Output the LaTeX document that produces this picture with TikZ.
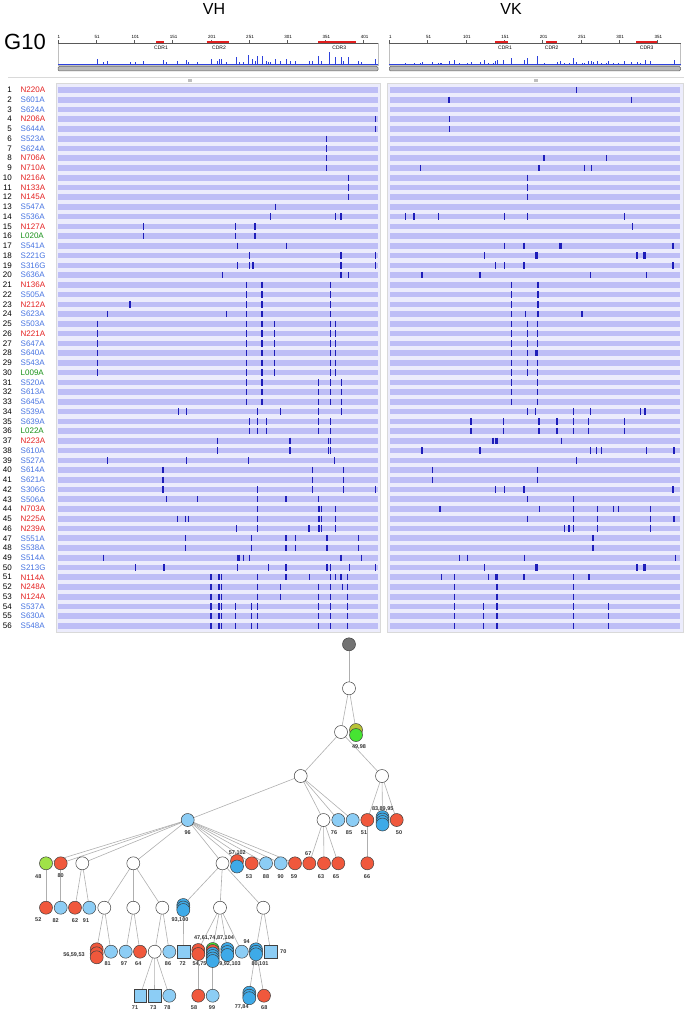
\documentclass[tikz,border=0pt]{standalone}
\usepackage{fontspec}
\setmainfont{Liberation Sans}
\usetikzlibrary{shapes, arrows, positioning}
\pgfdeclarelayer{background}
\pgfsetlayers{background,main}

\definecolor{mutred}{RGB}{228,32,32}
\definecolor{mutblue}{RGB}{70,115,225}
\definecolor{mutgreen}{RGB}{25,145,25}
\definecolor{barfill}{RGB}{190,190,246}
\definecolor{barbg}{RGB}{236,236,252}
\definecolor{tickblue}{RGB}{30,30,185}
\definecolor{histblue}{RGB}{45,65,220}
\definecolor{cdrred}{RGB}{225,30,30}
\definecolor{seqblue}{RGB}{140,205,245}
\definecolor{stackblue}{RGB}{62,170,232}
\definecolor{seqred}{RGB}{240,88,60}
\definecolor{seqgreen}{RGB}{70,228,50}
\definecolor{seqlime}{RGB}{160,226,72}
\definecolor{seqolive}{RGB}{185,195,55}
\definecolor{edgegray}{RGB}{175,175,175}

\tikzstyle{numlab} = [anchor=east, inner sep=0pt, font=\fontsize{8}{9}\selectfont]
\tikzstyle{mutlab} = [anchor=west, inner sep=0pt, font=\fontsize{8}{9}\selectfont]
\tikzstyle{ticklab} = [inner sep=0pt, font=\fontsize{4.5}{5}\selectfont]
\tikzstyle{cdrlab} = [inner sep=0pt, font=\fontsize{5}{5}\selectfont]
\tikzstyle{mut} = [line width=1.1pt, draw=tickblue]
\tikzstyle{hist} = [line width=0.9pt, draw=histblue]
\tikzstyle{seq} = [circle, minimum size=13pt, inner sep=0pt, draw=black!75, line width=0.5pt]
\tikzstyle{inferred} = [seq, fill=white]
\tikzstyle{seqB} = [seq, fill=seqblue]
\tikzstyle{seqR} = [seq, fill=seqred]
\tikzstyle{seqbox} = [rectangle, minimum size=12.5pt, inner sep=0pt, draw=black!75, line width=0.5pt, fill=seqblue]
\tikzstyle{lab} = [inner sep=0pt, font=\fontsize{5.5}{6}\selectfont\bfseries, text=black!80]
\tikzstyle{edge} = [draw=edgegray, line width=0.6pt]

\newcommand{\seqstack}[5]{%
  \node (#1) [seq, fill=#4] at (#2,#3) {};
  \foreach \dy/\sc [count=\kk] in {#5} {\node (#1-\kk) [seq, fill=\sc] at (#2,#3+\dy) {};}
}

\begin{document}
\begin{tikzpicture}[x=1pt, y=-1pt]
\useasboundingbox (0,0) rectangle (684,1011);

\node (vh) at (214,9) {\fontsize{16}{16}\selectfont VH};
\node (vk) at (511,9) {\fontsize{16}{16}\selectfont VK};
\node (gid) at (25,42) {\fontsize{22}{22}\selectfont G10};

% rulers
\draw[gray!50, line width=0.4pt] (58,43.5) rectangle (378,65);
\draw[gray!50, line width=0.4pt] (389.3,43.5) rectangle (680.5,65);
\draw[gray!70!black, line width=0.5pt] (58,43.5) -- (378,43.5);
\draw[gray!70!black, line width=0.5pt] (389.3,43.5) -- (680.5,43.5);
\foreach \k/\t in {0/1,1/51,2/101,3/151,4/201,5/251,6/301,7/351,8/401} {
  \draw[gray!70!black, line width=0.4pt] (58+38.2*\k,40.5) -- (58+38.2*\k,43.5);
  \node (tl\k) [ticklab] at (58+38.2*\k+1,36.5) {\t};
}
\foreach \k/\t in {0/1,1/51,2/101,3/151,4/201,5/251,6/301,7/351} {
  \draw[gray!70!black, line width=0.4pt] (389.3+38.3*\k,40.5) -- (389.3+38.3*\k,43.5);
  \node (tr\k) [ticklab] at (389.3+38.3*\k+1,36.5) {\t};
}
\draw[cdrred, line width=1.8pt] (156,42.3) -- (164.3,42.3);
\draw[cdrred, line width=1.8pt] (206.7,42.3) -- (229.3,42.3);
\draw[cdrred, line width=1.8pt] (318.3,42.3) -- (356,42.3);
\draw[cdrred, line width=1.8pt] (495,42.3) -- (507.7,42.3);
\draw[cdrred, line width=1.8pt] (545.7,42.3) -- (556.7,42.3);
\draw[cdrred, line width=1.8pt] (636,42.3) -- (656.7,42.3);
\node (cdr1h) [cdrlab] at (161,47.7) {CDR1};
\node (cdr2h) [cdrlab] at (219,47.7) {CDR2};
\node (cdr3h) [cdrlab] at (339.3,47.7) {CDR3};
\node (cdr1k) [cdrlab] at (505,47.7) {CDR1};
\node (cdr2k) [cdrlab] at (551.7,47.7) {CDR2};
\node (cdr3k) [cdrlab] at (646.7,47.7) {CDR3};

\draw[histblue, line width=0.4pt] (58,64.2) -- (378,64.2);
\draw[histblue, line width=0.4pt] (389.3,64.2) -- (680.5,64.2);
\foreach \x/\n in {97.7/6, 103.7/1, 107.3/2, 130/1, 135.7/1, 143.7/2, 163.5/4, 166.7/1, 177.8/2, 186.2/5, 188.3/1, 197.3/1, 211/6, 217.7/2, 219/6, 221.9/7, 226.3/1, 236.5/10, 239/1, 243.7/1, 248/19, 252/6, 255/2, 257.7/14, 262/13, 266.3/2, 268.3/1, 270.3/1, 275/7, 280.5/3, 286.3/6, 290/2, 295.7/2, 309.2/2, 312.3/3, 318.6/15, 321.7/3, 329.5/30, 335/11, 341.5/11, 343.3/3, 348/11, 358.3/2, 361.7/1, 375.7/6}
  \draw[hist] (\x,64.2) -- (\x,{64.7-2.3*sqrt(\n)});
\foreach \x/\n in {405.7/1, 414/1, 420.7/1, 422/2, 432.3/2, 438.3/1, 440/1, 441.7/1, 449.3/3, 454.3/6, 459.7/1, 467.3/1, 471/2, 480/2, 484.2/5, 488.3/1, 493/1, 495.7/4, 497/7, 503.8/6, 511.7/13, 524.5/6, 527.3/14, 537/22, 544/1, 557/2, 560.7/3, 564.7/1, 569/1, 573.3/13, 576.3/2, 582/1, 584.3/1, 588.6/3, 591/4, 593/2, 597/4, 601.3/1, 606.3/1, 608.7/3, 613.3/1, 618.3/1, 624.7/3, 631.8/2, 637/2, 640.7/1, 645.3/6, 650.3/3, 674/6}
  \draw[hist] (\x,64.2) -- (\x,{64.7-1.9*sqrt(\n)});

\draw[gray!80!black, fill=gray!55, line width=0.5pt, rounded corners=1.2pt] (58,66.5) rectangle (378,71);
\draw[gray!80!black, fill=gray!55, line width=0.5pt, rounded corners=1.2pt] (389.3,66.5) rectangle (680.5,71);

\draw[gray!30, line width=0.5pt] (8,77.3) -- (684,77.3);
\draw[gray!50, line width=0.3pt] (188,79) -- (192,79) (188,80.3) -- (192,80.3) (188,81.6) -- (192,81.6);
\draw[gray!50, line width=0.3pt] (534,79) -- (538,79) (534,80.3) -- (538,80.3) (534,81.6) -- (538,81.6);

% mutation rows
\fill[barbg] (57,84) rectangle (379.5,631.5);
\fill[barbg] (387.5,84) rectangle (682.5,631.5);
\draw[gray!30, line width=0.4pt] (56.5,83.5) rectangle (380,632);
\draw[gray!30, line width=0.4pt] (387,83.5) rectangle (683,632);

\foreach \rw/\ml/\cl in {1/N220A/mutred, 2/S601A/mutblue, 3/S624A/mutblue, 4/N206A/mutred, 5/S644A/mutblue, 6/S523A/mutblue, 7/S624A/mutblue, 8/N706A/mutred, 9/N710A/mutred, 10/N216A/mutred, 11/N133A/mutred, 12/N145A/mutred, 13/S547A/mutblue, 14/S536A/mutblue, 15/N127A/mutred, 16/L020A/mutgreen, 17/S541A/mutblue, 18/S221G/mutblue, 19/S316G/mutblue, 20/S636A/mutblue, 21/N136A/mutred, 22/S505A/mutblue, 23/N212A/mutred, 24/S623A/mutblue, 25/S503A/mutblue, 26/N221A/mutred, 27/S647A/mutblue, 28/S640A/mutblue, 29/S543A/mutblue, 30/L009A/mutgreen, 31/S520A/mutblue, 32/S613A/mutblue, 33/S645A/mutblue, 34/S539A/mutblue, 35/S639A/mutblue, 36/L022A/mutgreen, 37/N223A/mutred, 38/S610A/mutblue, 39/S527A/mutblue, 40/S614A/mutblue, 41/S621A/mutblue, 42/S306G/mutblue, 43/S506A/mutblue, 44/N703A/mutred, 45/N225A/mutred, 46/N239A/mutred, 47/S551A/mutblue, 48/S538A/mutblue, 49/S514A/mutblue, 50/S213G/mutblue, 51/N114A/mutred, 52/N248A/mutred, 53/N124A/mutred, 54/S537A/mutblue, 55/S630A/mutblue, 56/S548A/mutblue} {
  \pgfmathsetmacro\yy{90+9.745*(\rw-1)}
  \node (num\rw) [numlab] at (12,\yy) {\rw};
  \node (mut\rw) [mutlab, text=\cl] at (20.5,\yy) {\ml};
  \fill[barfill] (58,\yy-2.8) rectangle (378,\yy+2.8);
  \fill[barfill] (389.7,\yy-2.8) rectangle (680.3,\yy+2.8);
}

\foreach \rw/\xs in {4/{375.7}, 5/{375.7}, 6/{326.7}, 7/{326.7}, 8/{326.7}, 9/{326.7}, 10/{348.3}, 11/{348.3}, 12/{348.3}, 13/{275.7}, 14/{270.3,335.7,341}, 15/{143.7,235.3,255}, 16/{143.7,235.3,255}, 17/{237.7,286.7}, 18/{249.3,341,375.7}, 19/{237.7,249.3,253,341,375.7}, 20/{222.3,341,348.3}, 21/{246.7,262,330.3}, 22/{246.7,262,330.3}, 23/{130,246.7,262,330.3}, 24/{107.3,226.3,246.7,262,330.3}, 25/{97.7,246.7,262,274.7,330.3,335.7}, 26/{97.7,246.7,262,274.7,330.3,335.7}, 27/{97.7,246.7,262,274.7,330.3,335.7}, 28/{97.7,246.7,262,274.7,330.3,335.7}, 29/{97.7,246.7,262,274.7,330.3,335.7}, 30/{97.7,246.7,262,274.7,330.3,335.7}, 31/{246.7,262,318.3,330.3,341.7}, 32/{246.7,262,318.3,330.3,341.7}, 33/{246.7,262,318.3,330.3,341.7}, 34/{178.3,186.7,257.7,280.3,318.3,341.7}, 35/{249.3,257.7,266.3,318.3,330.3}, 36/{249.3,257.7,266.3,318.3,330.3}, 37/{217.7,290,328.3,330.3}, 38/{217.7,290,328.3,330.3}, 39/{107.3,186.7,248.3,334.3}, 40/{163,312.3,343.3}, 41/{163,312.3,343.3}, 42/{163,257.7,312.3,343.3,375.7}, 43/{166.7,197.3,257.7,286,318.3}, 44/{257.7,319,321.7,335.7}, 45/{177.3,185.7,188.3,257.7,319,321.7,335.7}, 46/{236.7,257.7,309,319,321.7,335.7}, 47/{185.7,251.7,286,295.7,327,358.3}, 48/{185.7,251.7,286,295.7,327,358.3}, 49/{103.7,237.7,239,243.7,249.3,341,361.7}, 50/{135.7,164,237.7,268.3,286,327,330.3,349.3,375.7}, 51/{211,219,221.7,257.7,286,309.3,330.3,335.7,341,347.7}, 52/{211,219,221.7,257.7,280.7,318.3,330.3,342.3,347.7}, 53/{211,219,221.7,257.7,280.7,318.3,330.3,347.7}, 54/{211,219,221.7,235.3,251.7,257.7,318.3,330.3,347.7}, 55/{211,219,221.7,235.3,251.7,257.7,318.3,330.3,347.7}, 56/{211,219,221.7,235.3,251.7,257.7,318.3,330.3,347.7}} {
  \pgfmathsetmacro\yy{90+9.745*(\rw-1)}
  \foreach \x in \xs {\draw[mut] (\x,\yy-3.2) -- (\x,\yy+3.2);}
}

\foreach \rw/\xs in {1/{576.3}, 2/{449,631.3}, 4/{449.7}, 5/{449.7}, 8/{544,606.3}, 9/{420.7,539,584.3,591.3}, 10/{527.3}, 11/{527.3}, 12/{527.3}, 14/{405.7,414,438.3,504.3,527.3,624.7}, 15/{632.3}, 17/{504.3,524,559.7,561,673}, 18/{484.7,535.7,537,637,644,645.7}, 19/{495.7,504.3,524,673}, 20/{422,480,590.7,646.3}, 21/{511.7,537.7,538.7}, 22/{511.7,537.7,538.7}, 23/{511.7,537.7,538.7}, 24/{511.7,525.7,537.7,538.7,582}, 25/{511.7,527.3,537.7}, 26/{511.7,527.3,537.7}, 27/{511.7,527.3,537.7}, 28/{511.7,527.3,535.7,537}, 29/{511.7,527.3,537.7}, 30/{511.7,527.3,537.7}, 31/{511.7,537.7}, 32/{511.7,537.7}, 33/{511.7,537.7}, 34/{527.3,535.3,573.3,590.7,640.7,645}, 35/{471,503.3,539,557,573.3,588.3,624.7}, 36/{471,503.3,539,557,573.3,588.3,624.7}, 37/{493,495.7,497,561.3}, 38/{422,480,590.7,596.3,601.3,646.3,674}, 39/{576.3}, 40/{432.3,537.7}, 41/{432.3,537.7}, 42/{495.7,504.3,524,673}, 43/{527.3,573.3}, 44/{440,539.7,573.3,597.3,613.3,618.3,650.3}, 45/{527.3,573.3,597.3,650.3,674}, 46/{564.7,569,573.3,597.3,650.3}, 47/{593}, 48/{593}, 49/{459.7,467.3,524.7,675.3}, 50/{484.7,535.7,537,637,644,645.7}, 51/{441.7,454.3,488.3,495.7,497,524,573.3,589}, 52/{454.3,497,573.3}, 53/{454.3,497,573.3}, 54/{454.3,483.7,497,573.3,608.7}, 55/{454.3,483.7,497,573.3,608.7}, 56/{454.3,483.7,497,573.3,608.7}} {
  \pgfmathsetmacro\yy{90+9.745*(\rw-1)}
  \foreach \x in \xs {\draw[mut] (\x,\yy-3.2) -- (\x,\yy+3.2);}
}

% lineage tree
\node (root) [seq, fill=black!55] at (349,644.3) {};
\node (a1) [inferred] at (349,688.3) {};
\node (a2) [inferred] at (341,732) {};
\seqstack{s4998}{356}{730}{seqolive}{5/seqgreen}
\node (a3) [inferred] at (300.7,776) {};
\node (a4) [inferred] at (382,776) {};

\node (a5) [inferred] at (323.5,820) {};
\node (n76) [seqB] at (338.3,820) {};
\node (n85) [seqB] at (352.7,820) {};
\node (n51) [seqR] at (367.3,820) {};
\seqstack{s838995}{382.5}{817}{stackblue}{2.5/stackblue,5/stackblue,7.5/stackblue}
\node (n50) [seqR] at (396.7,820) {};
\node (n96) [seqB] at (187.7,820) {};

\node (n48) [seq, fill=seqlime] at (46,863.3) {};
\node (n80) [seqR] at (60.7,863.3) {};
\node (b1) [inferred] at (82.3,863.3) {};
\node (b2) [inferred] at (133.3,863.3) {};
\node (b3) [inferred] at (222.5,863.3) {};
\seqstack{s57102}{237}{861}{seqred}{5.5/stackblue}
\node (n53) [seqR] at (251.7,863.3) {};
\node (n88) [seqB] at (266,863.3) {};
\node (n90) [seqB] at (280.7,863.3) {};
\node (n59) [seqR] at (295,863.3) {};
\node (n67) [seqR] at (309.3,863.3) {};
\node (n63) [seqR] at (324,863.3) {};
\node (n65) [seqR] at (338.3,863.3) {};
\node (n66) [seqR] at (367.3,863.3) {};

\node (n52) [seqR] at (46,907.7) {};
\node (n82) [seqB] at (60.7,907.7) {};
\node (n62) [seqR] at (75,907.7) {};
\node (n91) [seqB] at (89.3,907.7) {};
\node (c1) [inferred] at (104.3,907.7) {};
\node (c2) [inferred] at (133.3,907.7) {};
\node (c3) [inferred] at (162.3,907.7) {};
\seqstack{s93100}{183.3}{905}{stackblue}{2.5/stackblue,5/stackblue}
\node (c4) [inferred] at (220,907.7) {};
\node (c5) [inferred] at (263.3,907.7) {};

\seqstack{s565953}{96.7}{949.3}{seqred}{4/seqred,8/seqred}
\node (n81) [seqB] at (111,951.7) {};
\node (n97) [seqB] at (125.7,951.7) {};
\node (n64) [seqR] at (140,951.7) {};
\node (d1) [inferred] at (154.7,951.7) {};
\node (n86) [seqB] at (169.3,951.7) {};
\node (n72) [seqbox] at (183.7,951.7) {};
\seqstack{s4761}{198.3}{950}{seqred}{4/seqred}
\seqstack{s6992}{212.7}{949}{seqgreen}{2/seqred,4.5/stackblue,7/stackblue,9.5/stackblue,12/stackblue}
\seqstack{s87104}{227.3}{949}{stackblue}{3/stackblue,6/stackblue}
\node (n94) [seqB] at (241.8,951.7) {};
\seqstack{s80101}{256}{949.3}{stackblue}{2.5/stackblue,5/stackblue}
\node (n70) [seqbox] at (270.7,951.7) {};

\node (n71) [seqbox] at (140,995.7) {};
\node (n73) [seqbox] at (154.5,995.7) {};
\node (n78) [seqB] at (169.3,995.7) {};
\node (n58) [seqR] at (198.3,995.7) {};
\node (n99) [seqB] at (212.7,995.7) {};
\seqstack{s7784}{249.3}{992.7}{stackblue}{3/stackblue,5.5/stackblue}
\node (n68) [seqR] at (264,995.7) {};

\begin{pgfonlayer}{background}
\foreach \u/\v in {root/a1, a1/a2, a1/s4998, a2/a3, a2/a4, a3/n96, a3/a5, a3/n76, a3/n85, a4/n51, a4/s838995, a4/n50, n51/n66, a5/n67, a5/n63, a5/n65, n96/n48, n96/n80, n96/b1, n96/b2, n96/b3, n96/s57102, n96/n53, n96/n88, n96/n90, n96/n59, n48/n52, n80/n82, b1/n62, b1/n91, b2/c1, b2/c2, b2/c3, b3/s93100, b3/c4, b3/c5, c1/s565953, c1/n81, c2/n97, c2/n64, c3/d1, c3/n86, s93100/n72, c4/s4761, c4/s6992, c4/s87104, c4/n94, c5/s80101, c5/n70, d1/n71, d1/n73, d1/n78, s4761/n58, s6992/n99, s80101/s7784, s80101/n68}
  \draw[edge] (\u.center) -- (\v.center);
\end{pgfonlayer}

\foreach \nm/\x/\y/\t in {l4998/359/747.3/{49,98}, l76/334/832.7/76, l85/349/832.7/85, l51/364/832.7/51, l838995/382.7/808.5/{83,89,95}, l50/399/832.7/50, l96/187.7/832.7/96, l48/38.3/876.7/48, l80/60.7/876/80, l57102/237.3/853.3/{57,102}, l53/249/876.3/53, l88/266/876.3/88, l90/280.7/876.3/90, l59/294/876.3/59, l67/308.3/853.3/67, l63/321/876.7/63, l65/336/876.7/65, l66/367/876.7/66, l52/38.3/919.3/52, l82/55.7/920.7/82, l62/75/920.7/62, l91/86/920.7/91, l93100/180/920/{93,100}, l565953/74/955.3/{56,59,53}, l81/107.7/964/81, l97/124/964/97, l64/138.3/964/64, l86/168/964/86, l72/182.7/964/72, ltop/214/938.3/{47,61,74,87,104}, l5475/199.5/964/{54,75}, l92103/230/964/{9,92,103}, l94/246.7/941.7/94, l80101/260/964/{80,101}, l70/283.3/951.7/70, l71/135/1007.3/71, l73/153.3/1007.3/73, l78/167.3/1007.3/78, l58/194/1007.3/58, l99/212/1007.3/99, l7784/241.7/1007.3/{77,84}, l68/264.3/1007.3/68}
  \node (\nm) [lab] at (\x,\y) {\t};

\end{tikzpicture}
\end{document}
